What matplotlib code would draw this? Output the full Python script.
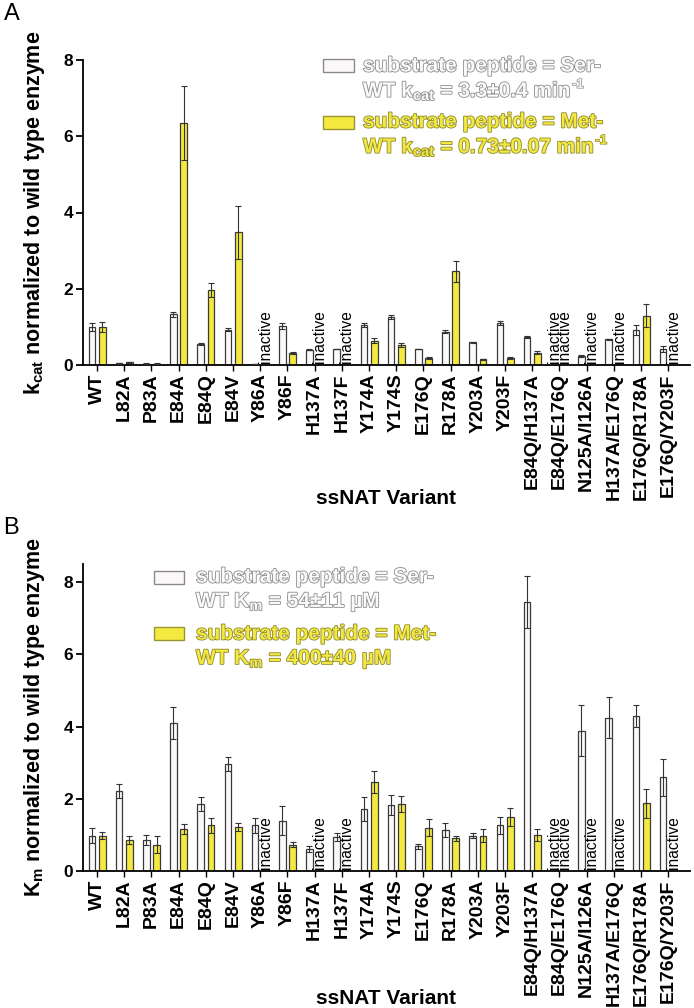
import numpy as np
import matplotlib
matplotlib.use("Agg")
import matplotlib.pyplot as plt
import matplotlib.patheffects as pe
from matplotlib.patches import Rectangle

plt.rcParams['font.family'] = ['Liberation Sans', 'DejaVu Sans']
plt.rcParams['mathtext.fontset'] = 'custom'
plt.rcParams['mathtext.rm'] = 'Liberation Sans:bold'
plt.rcParams['mathtext.it'] = 'Liberation Sans:bold'
plt.rcParams['mathtext.bf'] = 'Liberation Sans:bold'

variants = ["WT", "L82A", "P83A", "E84A", "E84Q", "E84V", "Y86A", "Y86F", "H137A",
            "H137F", "Y174A", "Y174S", "E176Q", "R178A", "Y203A", "Y203F",
            "E84Q/H137A", "E84Q/E176Q", "N125A/I126A", "H137A/E176Q",
            "E176Q/R178A", "E176Q/Y203F"]
nan = np.nan
# panel A: kcat normalized (nan = inactive)
kcat_ser = [1.0, 0.04, 0.03, 1.33, 0.55, 0.93, 0.02, 1.02, 0.40, 0.42, 1.05, 1.26, 0.42,
            0.87, 0.60, 1.10, 0.73, nan, 0.24, 0.67, 0.92, 0.43]
kcat_ser_err = [0.10, 0.01, 0.01, 0.07, 0.02, 0.03, 0.005, 0.07, 0.01, 0.01, 0.06, 0.05,
                0.01, 0.04, 0.01, 0.06, 0.03, nan, 0.02, 0.02, 0.12, 0.08]
kcat_met = [1.0, 0.07, 0.03, 6.35, 1.96, 3.48, nan, 0.31, nan, nan, 0.64, 0.53, 0.18,
            2.46, 0.15, 0.18, 0.32, nan, nan, nan, 1.29, nan]
kcat_met_err = [0.13, 0.01, 0.01, 0.97, 0.18, 0.69, nan, 0.03, nan, nan, 0.07, 0.05, 0.02,
                0.27, 0.02, 0.02, 0.04, nan, nan, nan, 0.30, nan]
# panel B: Km normalized
km_ser = [0.98, 2.21, 0.86, 4.09, 1.86, 2.96, 1.27, 1.39, 0.61, 0.94, 1.72, 1.83, 0.69,
          1.13, 0.98, 1.26, 7.45, nan, 3.89, 4.25, 4.29, 2.59]
km_ser_err = [0.21, 0.20, 0.13, 0.44, 0.20, 0.20, 0.21, 0.40, 0.09, 0.10, 0.34, 0.28,
              0.07, 0.19, 0.08, 0.24, 0.73, nan, 0.70, 0.56, 0.30, 0.50]
km_met = [0.98, 0.86, 0.73, 1.16, 1.26, 1.23, nan, 0.73, nan, nan, 2.47, 1.86, 1.20,
          0.90, 0.98, 1.49, 1.00, nan, nan, nan, 1.88, nan]
km_met_err = [0.09, 0.11, 0.24, 0.13, 0.20, 0.11, nan, 0.07, nan, nan, 0.31, 0.22, 0.24,
              0.08, 0.18, 0.25, 0.17, nan, nan, nan, 0.40, nan]

W, H = 694, 1008
fig = plt.figure(figsize=(W / 100, H / 100), dpi=100)
renderer = fig.canvas.get_renderer()

SER_FC = "#fcf8fa"
MET_FC = "#f4ea3f"
EDGE = "#3a3a3a"


def ax_rect(left, top, right, bottom):
    return [left / W, 1 - bottom / H, (right - left) / W, (bottom - top) / H]


def draw_panel(ax, ser, ser_e, met, met_e, ymax, yticks):
    x = np.arange(len(variants))
    off = 0.19
    bw = 0.245
    ser = np.array(ser, float); met = np.array(met, float)
    ser_e = np.array(ser_e, float); met_e = np.array(met_e, float)
    for xs, vals, errs, fc in ((x - off, ser, ser_e, SER_FC), (x + off, met, met_e, MET_FC)):
        ok = ~np.isnan(vals)
        ax.bar(xs[ok], vals[ok], width=bw, color=fc, edgecolor=EDGE, linewidth=0.9, zorder=2)
        ax.errorbar(xs[ok], vals[ok], yerr=errs[ok], fmt='none', ecolor="#333333",
                    elinewidth=0.8, capsize=2.2, capthick=0.8, zorder=3)
        for xi, v in zip(xs[~ok], vals[~ok]):
            ax.text(xi, 0.05 * ymax / 8, "inactive", rotation=90, ha='center', va='bottom',
                    fontsize=11.2, color='black', zorder=4)
    ax.set_xlim(-0.515, 21.8)
    ax.set_ylim(0, ymax)
    ax.set_yticks(yticks)
    ax.set_yticklabels([str(t) for t in yticks], fontsize=12.5, fontweight='bold')
    ax.set_xticks(x)
    ax.set_xticklabels(variants, rotation=90, fontsize=14, fontweight='bold')
    for s in ('top', 'right'):
        ax.spines[s].set_visible(False)
    for s in ('left', 'bottom'):
        ax.spines[s].set_linewidth(1.3)
    ax.tick_params(axis='y', length=5, width=1.3, pad=2)
    ax.tick_params(axis='x', length=4, width=1.0, pad=2)


def outlined(txt, x, y, fill, stroke, sup=None):
    t = fig.text(x / W, 1 - y / H, txt, fontsize=15, fontweight='bold', color=fill,
                 ha='left', va='center')
    t.set_path_effects([pe.withStroke(linewidth=1.2, foreground=stroke)])
    if sup:
        bb = t.get_window_extent(renderer=renderer)
        s = fig.text((bb.x1 + 0.5) / W, (bb.y1 - 5) / H, sup, fontsize=9.5, fontweight='bold',
                     color=fill, ha='left', va='center')
        s.set_path_effects([pe.withStroke(linewidth=1.0, foreground=stroke)])
    return t


def legend_box(x0, y0, w, h, fc):
    fig.patches.append(Rectangle((x0 / W, 1 - (y0 + h) / H), w / W, h / H, facecolor=fc,
                                 edgecolor="#8a8a8a" if fc == SER_FC else "#9a9430",
                                 linewidth=1.0, transform=fig.transFigure, figure=fig))


GREY_FILL, GREY_STROKE = "#fafafa", "#8c8c8c"
YEL_FILL, YEL_STROKE = "#f2e743", "#8e8a2a"

# Panel A
axA = fig.add_axes(ax_rect(83, 60, 690, 365))
draw_panel(axA, kcat_ser, kcat_ser_err, kcat_met, kcat_met_err, 8, [0, 2, 4, 6, 8])
axA.set_ylabel(r"k$_{\mathrm{cat}}$ normalized to wild type enzyme", fontsize=15.5,
               fontweight='bold', labelpad=12)
fig.text(386 / W, 1 - 498 / H, "ssNAT Variant", fontsize=15, fontweight='bold',
         ha='center', va='center')
fig.text(4 / W, 1 - 14 / H, "A", fontsize=17, ha='left', va='center')
legend_box(323, 59, 31, 13, SER_FC)
outlined("substrate peptide = Ser-", 363, 66, GREY_FILL, GREY_STROKE)
outlined(r"WT k$_{\mathrm{cat}}$ = 3.3±0.4 min", 363, 91, GREY_FILL, GREY_STROKE, sup="-1")
legend_box(323, 116, 31, 13, MET_FC)
outlined("substrate peptide = Met-", 363, 122, YEL_FILL, YEL_STROKE)
outlined(r"WT k$_{\mathrm{cat}}$ = 0.73±0.07 min", 363, 147, YEL_FILL, YEL_STROKE, sup="-1")

# Panel B
axB = fig.add_axes(ax_rect(83, 564, 690, 871))
draw_panel(axB, km_ser, km_ser_err, km_met, km_met_err, 8.5, [0, 2, 4, 6, 8])
axB.set_ylabel(r"K$_{\mathrm{m}}$ normalized to wild type enzyme", fontsize=15.5,
               fontweight='bold', labelpad=12)
fig.text(386 / W, 1 - 999 / H, "ssNAT Variant", fontsize=15, fontweight='bold',
         ha='center', va='center')
fig.text(3 / W, 1 - 528 / H, "B", fontsize=17, ha='left', va='center')
legend_box(154, 571, 30, 13, SER_FC)
outlined("substrate peptide = Ser-", 196, 577, GREY_FILL, GREY_STROKE)
outlined(r"WT K$_{\mathrm{m}}$ = 54±11 µM", 196, 602, GREY_FILL, GREY_STROKE)
legend_box(154, 627, 30, 13, MET_FC)
outlined("substrate peptide = Met-", 196, 634, YEL_FILL, YEL_STROKE)
outlined(r"WT K$_{\mathrm{m}}$ = 400±40 µM", 196, 659, YEL_FILL, YEL_STROKE)

fig.savefig("out.png", dpi=100)
